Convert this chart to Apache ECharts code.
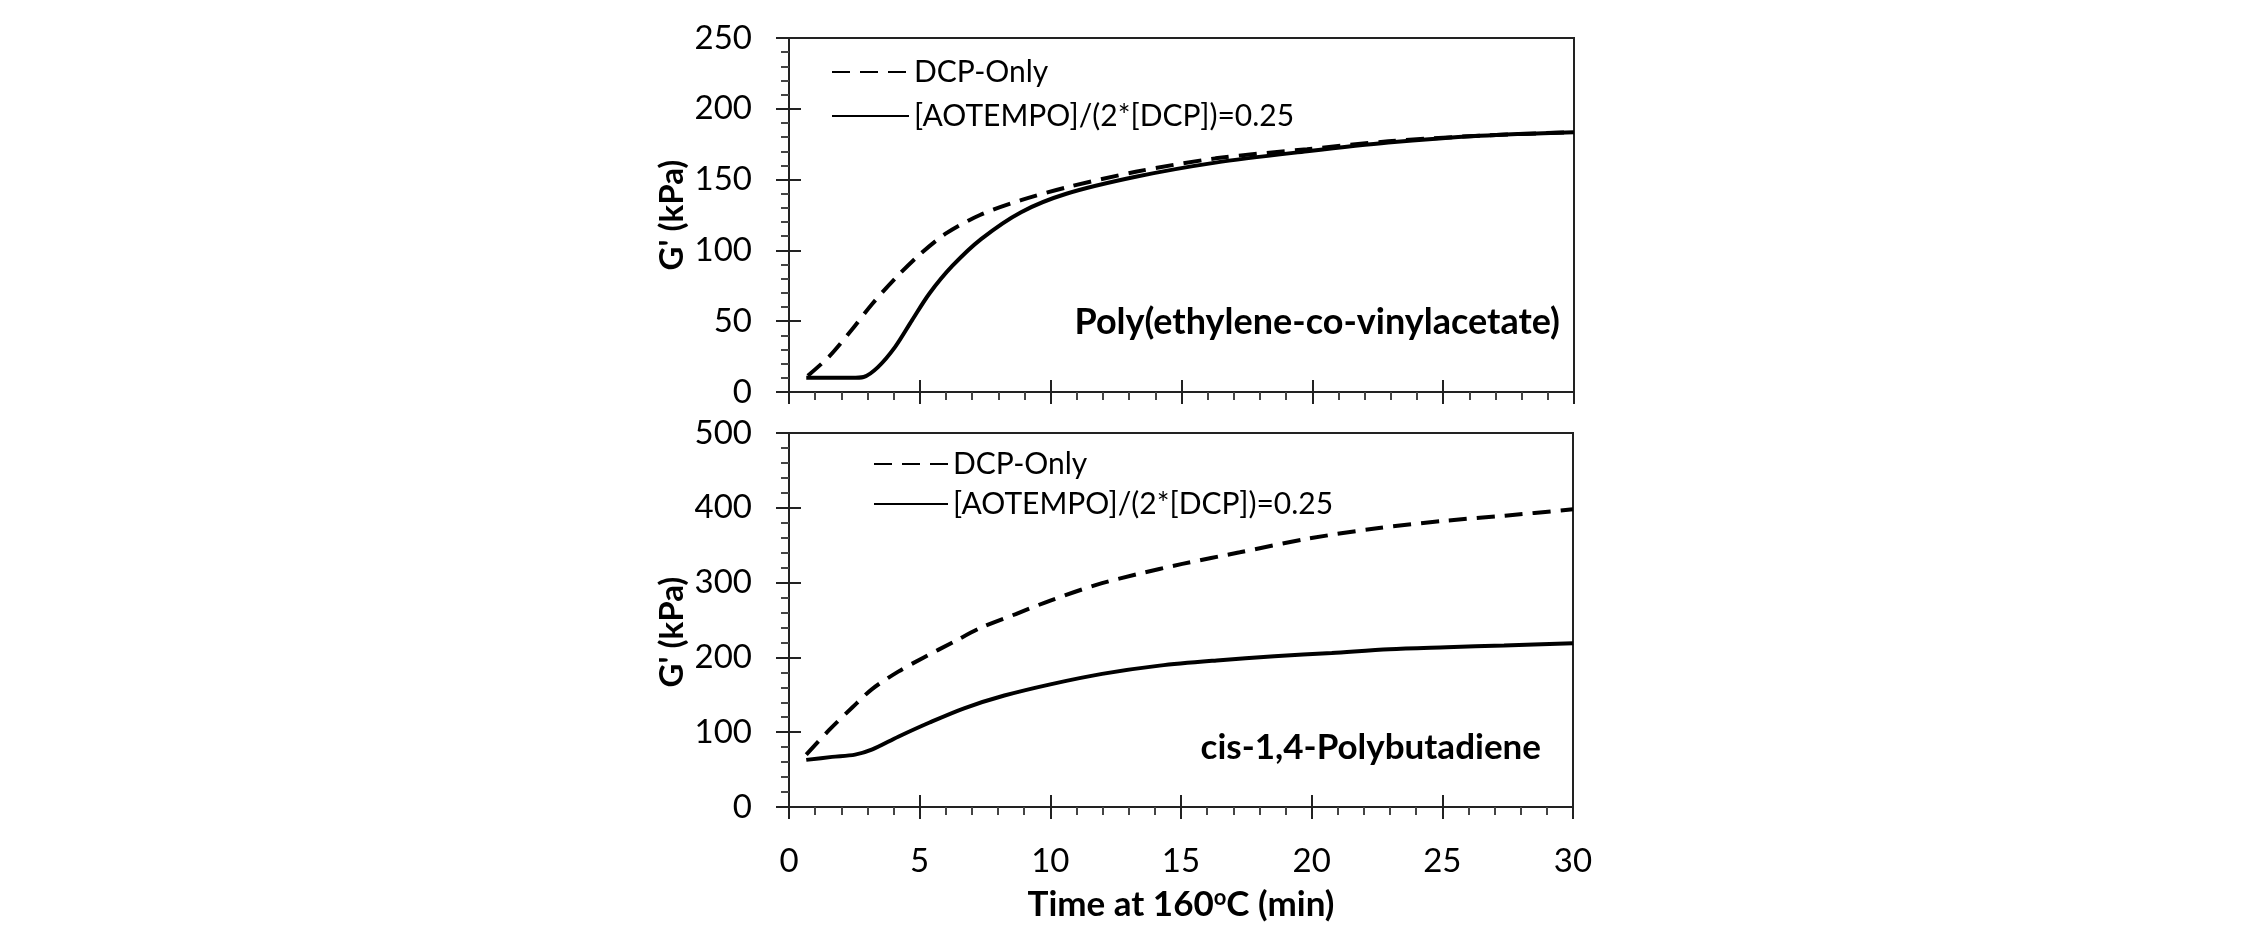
<!DOCTYPE html>
<html>
<head>
<meta charset="utf-8">
<script src="https://cdn.jsdelivr.net/npm/echarts@6/dist/echarts.min.js"></script>
<style>
html,body{margin:0;padding:0;background:#fff;}
#c{width:2250px;height:938px;}
</style>
</head>
<body>
<div id="c"></div>
<script>
// ---- data ----
const xTicks = [0, 5, 10, 15, 20, 25, 30];
const evaTimeDcp = [0.72, 1.53, 2.4, 3.17, 4.05, 4.93, 6.0, 7.3, 8.87, 10.6, 13.25, 16.3, 19.8, 22.9, 26.4, 30];
const evaGDcp    = [11.5, 25, 44, 62, 80, 96, 112, 125, 135.5, 144.5, 155.5, 165, 171.5, 177, 181, 183.5];
const evaTimeAo  = [0.66, 1.5, 2.4, 2.85, 3.4, 4.05, 4.7, 5.36, 6.24, 7.34, 8.87, 10.6, 13.25, 16.3, 19.8, 22.9, 26.4, 30];
const evaGAo     = [10, 10, 10, 10.6, 17.6, 31.7, 50.6, 69.4, 89, 108, 127, 140, 152, 162, 170, 176.2, 181, 183.5];
const pbTimeDcp  = [0.66, 1.54, 2.42, 3.19, 4.18, 5.16, 6.26, 7.36, 8.68, 10.0, 11.76, 13.3, 15.05, 17.25, 19.9, 22.5, 25.2, 27.4, 30];
const pbGDcp     = [70, 103, 133, 158, 181, 200, 220, 240, 258, 276, 297, 311, 325, 340.5, 359, 372.6, 383, 389.5, 398];
const pbTimeAo   = [0.66, 1.65, 2.53, 3.19, 4.18, 5.38, 6.7, 8.24, 10.0, 11.98, 14.18, 16.37, 18.57, 20.77, 22.97, 25.16, 27.36, 30];
const pbGAo      = [63, 67, 70, 77, 94, 113, 132, 149, 164, 178, 189, 196, 201.6, 206, 211, 213.6, 216, 219];
const nameDcp = 'DCP-Only';
const nameAo  = '[AOTEMPO]/(2*[DCP])=0.25';
const labelTop = 'Poly(ethylene-co-vinylacetate)';
const labelBottom = 'cis-1,4-Polybutadiene';

const zip = (a, b) => a.map((v, i) => [v, b[i]]);

const FONT = 'Lato, "Open Sans", sans-serif';
const INK = '#000';

const gridTop = {left: 789, top: 38, width: 785, height: 354};
const gridBot = {left: 789, top: 433, width: 784, height: 374};

function mainX(gridIndex, showLabels) {
  return {
    type: 'value', gridIndex, min: 0, max: 30, interval: 5,
    axisLine: {show: true, onZero: false, lineStyle: {color: '#222', width: 2}},
    axisTick: {show: true, inside: false, length: 12, lineStyle: {color: '#222', width: 2}},
    minorTick: {show: true, splitNumber: 5, length: 8, lineStyle: {color: '#444', width: 2}},
    splitLine: {show: false},
    axisLabel: {show: showLabels, margin: 38, fontFamily: FONT, fontSize: 33, color: INK},
    name: showLabels ? 'Time at 160{sup|o}C (min)' : '',
    nameLocation: 'middle', nameGap: 80,
    nameTextStyle: {fontFamily: FONT, fontSize: 35, fontWeight: 'bold', color: INK,
      rich: {sup: {fontFamily: FONT, fontSize: 22, fontWeight: 'bold', verticalAlign: 'top', padding: [0, 0, 14, 0], color: INK}}}
  };
}
function overlayX(gridIndex) {
  return {
    type: 'value', gridIndex, min: 0, max: 30, interval: 5,
    axisLine: {show: false},
    axisTick: {show: true, inside: true, length: 12, lineStyle: {color: '#222', width: 2}},
    minorTick: {show: false}, splitLine: {show: false}, axisLabel: {show: false}
  };
}
function mainY(gridIndex, max, interval, namePad) {
  return {
    type: 'value', gridIndex, min: 0, max, interval,
    axisLine: {show: true, onZero: false, lineStyle: {color: '#222', width: 2}},
    axisTick: {show: true, inside: false, length: 13, lineStyle: {color: '#222', width: 2}},
    minorTick: {show: true, splitNumber: 5, length: 8, lineStyle: {color: '#444', width: 2}},
    splitLine: {show: false},
    axisLabel: {margin: 37, fontFamily: FONT, fontSize: 33, color: INK},
    name: "G' (kPa)", nameLocation: 'middle', nameGap: 100, nameRotate: 90,
    nameTextStyle: {fontFamily: FONT, fontSize: 33, fontWeight: 'bold', color: INK, padding: namePad}
  };
}
function overlayY(gridIndex, max, interval) {
  return {
    type: 'value', gridIndex, min: 0, max, interval,
    axisLine: {show: false},
    axisTick: {show: true, inside: true, length: 12, lineStyle: {color: '#222', width: 2}},
    minorTick: {show: false}, splitLine: {show: false}, axisLabel: {show: false}
  };
}
function lineSeries(name, data, dashed, xi, yi) {
  return {
    type: 'line', name, data, xAxisIndex: xi, yAxisIndex: yi,
    showSymbol: false, symbol: 'none', smooth: 0.3,
    lineStyle: {color: INK, width: 4, type: dashed ? [18, 10] : 'solid'},
    itemStyle: {color: INK}, z: 3
  };
}
function legendAt(left, top, gap, width) {
  return {
    orient: 'vertical', left, top, itemWidth: width, itemHeight: 14, itemGap: gap,
    data: [nameDcp, nameAo], selectedMode: false,
    itemStyle: {opacity: 0},
    textStyle: {fontFamily: FONT, fontSize: 30, color: INK, lineHeight: 30, padding: [0, 0, 0, 0]}
  };
}

const chart = echarts.init(document.getElementById('c'), null, {renderer: 'canvas'});
chart.setOption({
  backgroundColor: '#fff',
  animation: false,
  grid: [
    Object.assign({show: true, borderColor: '#222', borderWidth: 2, backgroundColor: 'transparent'}, gridTop),
    Object.assign({show: false}, gridTop),
    Object.assign({show: true, borderColor: '#222', borderWidth: 2, backgroundColor: 'transparent'}, gridBot),
    Object.assign({show: false}, gridBot)
  ],
  xAxis: [mainX(0, false), overlayX(1), mainX(2, true), overlayX(3)],
  yAxis: [mainY(0, 250, 50, [0, 0, 0, 0]), overlayY(1, 250, 50), mainY(2, 500, 100, [0, 24, 0, 0]), overlayY(3, 500, 100)],
  legend: [legendAt(826, 52, 14, 77), legendAt(868, 444, 10, 74)],
  series: [
    lineSeries(nameDcp, zip(evaTimeDcp, evaGDcp), true, 0, 0),
    lineSeries(nameAo, zip(evaTimeAo, evaGAo), false, 0, 0),
    lineSeries(nameDcp, zip(pbTimeDcp, pbGDcp), true, 2, 2),
    lineSeries(nameAo, zip(pbTimeAo, pbGAo), false, 2, 2)
  ],
  graphic: [
    {type: 'text', right: 2250 - 1560, top: 304,
     style: {text: labelTop, fontFamily: FONT, fontSize: 36, fontWeight: 'bold', fill: INK}},
    {type: 'text', right: 2250 - 1541, top: 730,
     style: {text: labelBottom, fontFamily: FONT, fontSize: 35, fontWeight: 'bold', fill: INK}}
  ]
});
</script>
</body>
</html>
